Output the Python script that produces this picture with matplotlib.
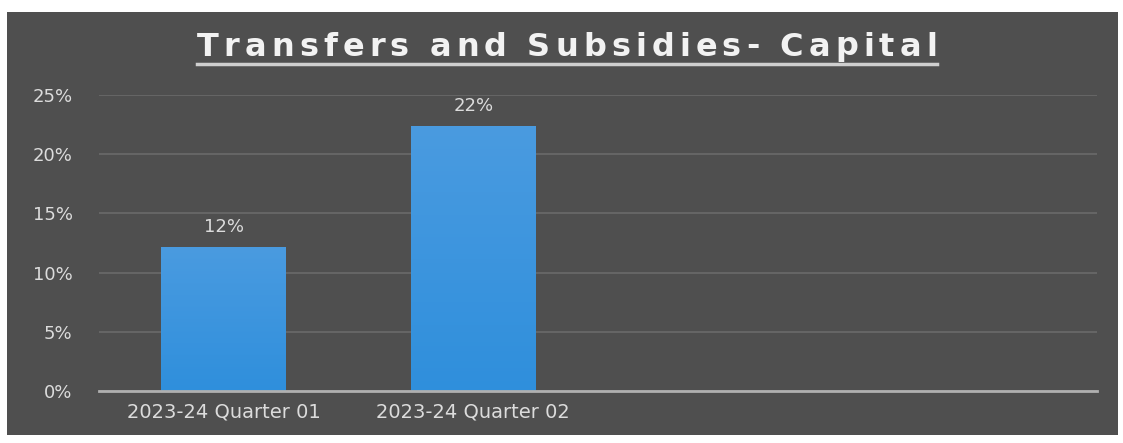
import matplotlib
matplotlib.use("Agg")
import matplotlib.pyplot as plt
from matplotlib.patches import Rectangle
from matplotlib.lines import Line2D
from matplotlib.colors import LinearSegmentedColormap
import numpy as np

# Chart data
categories = ["2023-24 Quarter 01", "2023-24 Quarter 02", "", ""]
values = [12.1, 22.3, None, None]
yticks = [0, 5, 10, 15, 20, 25]
title = "Transfers and Subsidies- Capital"

panel_color = "#4f4f4f"
bar_top = "#4a9be0"
bar_bottom = "#2f8fdc"
text_color = "#dcdcdc"

W, H = 1123, 443
fig = plt.figure(figsize=(W / 100, H / 100), dpi=100, facecolor="white")

# Dark chart panel behind everything
fig.patches.append(Rectangle((7 / W, 1 - 435 / H), 1111 / W, 423 / H,
                             transform=fig.transFigure, facecolor=panel_color,
                             edgecolor="none", zorder=-10))

ax = fig.add_axes([99 / W, 1 - 391 / H, 998 / W, 296 / H])
ax.set_facecolor("none")
x = np.arange(len(categories))

cmap = LinearSegmentedColormap.from_list("bar", [bar_bottom, bar_top])
grad = np.linspace(0, 1, 256).reshape(-1, 1)
for xi, v in zip(x, values):
    if v is None:
        continue
    # vertical gradient fill for each bar
    ax.imshow(grad, extent=(xi - 0.25, xi + 0.25, 0, v), origin="lower", cmap=cmap,
              aspect="auto", zorder=3)
    ax.text(xi, v + 1.0, f"{v:.0f}%", ha="center", va="bottom", color=text_color,
            fontsize=13, zorder=4)
ax.set_xlim(-0.5, len(categories) - 0.5)
ax.set_ylim(0, 25)

ax.set_yticks(yticks)
ax.set_yticklabels([f"{t}%" for t in yticks])
ax.set_xticks(x)
ax.set_xticklabels(categories)
ax.tick_params(axis="both", length=0, colors=text_color)
ax.tick_params(axis="y", pad=19, labelsize=13)
ax.tick_params(axis="x", pad=8, labelsize=14)
for s in ax.spines.values():
    s.set_visible(False)
ax.grid(axis="y", color="#6a6a6a", linewidth=1.2, zorder=1)
ax.set_axisbelow(True)
ax.axhline(0, color="#b0b0b0", linewidth=2, zorder=5, clip_on=False)

# Letter-spaced, underlined title
title_left, title_right, title_y = 197, 937, 1 - 47 / H
renderer = fig.canvas.get_renderer()
chars = []
widths = []
for ch in title:
    t = fig.text(0, title_y, ch if ch != " " else "n", ha="left", va="center",
                 color="#f2f2f2", fontsize=23, fontweight="bold")
    w = t.get_window_extent(renderer).width
    if ch == " ":
        t.set_text("")
        w *= 0.45
    chars.append(t)
    widths.append(w)
gap = (title_right - title_left - sum(widths)) / (len(title) - 1)
pos = title_left
for t, w in zip(chars, widths):
    t.set_x(pos / W)
    pos += w + gap
fig.lines.append(Line2D([title_left / W, title_right / W], [1 - 64 / H] * 2,
                        transform=fig.transFigure, color="#cfcfcf", linewidth=2.5))

fig.savefig("out.png", dpi=100, facecolor="white")
